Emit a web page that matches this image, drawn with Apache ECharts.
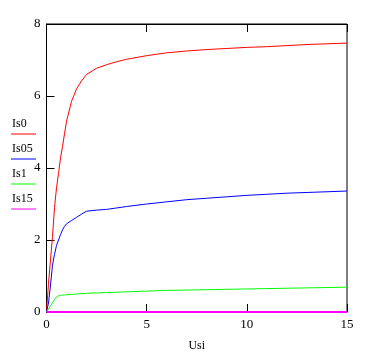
<!DOCTYPE html>
<html>
<head>
<meta charset="utf-8">
<script src="https://cdn.jsdelivr.net/npm/echarts@6/dist/echarts.min.js"></script>
<style>
  html, body { margin: 0; padding: 0; background: #fff; }
  #chart { width: 366px; height: 353px; }
</style>
</head>
<body>
<div id="chart"></div>
<script>
// values
var usi = [0, 0.1, 0.2, 0.3, 0.4, 0.5, 0.6, 0.7, 0.8, 0.9, 1, 1.25, 1.5, 1.75, 2, 2.5, 3, 3.5, 4, 5, 6, 7, 8, 9, 10, 11, 12, 13, 14, 15];
var is0  = [0, 0.8, 1.45, 2.1, 2.9, 3.45, 3.85, 4.28, 4.6, 4.95, 5.3, 5.85, 6.2, 6.42, 6.6, 6.77, 6.87, 6.95, 7.02, 7.12, 7.2, 7.25, 7.29, 7.32, 7.35, 7.37, 7.4, 7.43, 7.45, 7.47];
var is05 = [0, 0.25, 0.75, 1.3, 1.6, 1.85, 2.0, 2.15, 2.28, 2.38, 2.45, 2.54, 2.63, 2.72, 2.8, 2.83, 2.85, 2.89, 2.93, 3.0, 3.06, 3.12, 3.16, 3.2, 3.24, 3.27, 3.3, 3.32, 3.34, 3.36];
var is1  = [0, 0.08, 0.17, 0.26, 0.35, 0.42, 0.45, 0.46, 0.47, 0.475, 0.48, 0.49, 0.5, 0.51, 0.52, 0.53, 0.54, 0.55, 0.56, 0.58, 0.6, 0.61, 0.62, 0.63, 0.64, 0.65, 0.66, 0.67, 0.68, 0.69];
var is15 = [0, 0, 0, 0, 0, 0, 0, 0, 0, 0, 0, 0, 0, 0, 0, 0, 0, 0, 0, 0, 0, 0, 0, 0, 0, 0, 0, 0, 0, 0];

var names = ['Is0', 'Is05', 'Is1', 'Is15'];
var colors = ['#ff0000', '#0000ff', '#00ff00', '#ff00ff'];
var values = [is0, is05, is1, is15];

var font = 'Liberation Serif';

function pairs(ys) {
  var out = [];
  for (var i = 0; i < usi.length; i++) out.push([usi[i], ys[i]]);
  return out;
}

var series = [];
var legendItems = [];
for (var k = 0; k < names.length; k++) {
  series.push({
    name: names[k],
    type: 'line',
    data: pairs(values[k]),
    showSymbol: false,
    lineStyle: { color: colors[k], width: k == 3 ? 2 : 1 },
    z: 3
  });
  // legend drawn by hand: name above a short coloured line
  legendItems.push({
    type: 'text', left: 12, top: 118 + k * 25,
    style: { text: names[k], font: '12px "' + font + '"', fill: '#000' }
  });
  legendItems.push({
    type: 'line',
    shape: { x1: 11, y1: 134 + k * 25, x2: 36, y2: 134 + k * 25 },
    style: { stroke: colors[k], lineWidth: 1 }
  });
}

var chart = echarts.init(document.getElementById('chart'));
var option = {
  animation: false,
  grid: {
    left: 46.5, right: 19, top: 24, bottom: 41,
    outerBoundsMode: 'none',
    show: true, borderColor: '#000', borderWidth: 1
  },
  xAxis: [
    {
      type: 'value', min: 0, max: 15, interval: 5, position: 'bottom',
      name: 'Usi', nameLocation: 'middle', nameGap: 28,
      nameTextStyle: { fontFamily: font, fontSize: 12, color: '#000' },
      axisLine: { lineStyle: { color: '#000' } },
      axisTick: { inside: true, length: 8, lineStyle: { color: '#000' } },
      axisLabel: { margin: 6, fontFamily: font, fontSize: 13, color: '#000' },
      splitLine: { show: false }
    },
    {
      type: 'value', min: 0, max: 15, interval: 5, position: 'top',
      axisLine: { lineStyle: { color: '#000' } },
      axisTick: { inside: true, length: 8, lineStyle: { color: '#000' } },
      axisLabel: { show: false },
      splitLine: { show: false }
    }
  ],
  yAxis: {
    type: 'value', min: 0, max: 8, interval: 2,
    axisLine: { show: true, lineStyle: { color: '#000' } },
    axisTick: { show: true, inside: true, length: 8, lineStyle: { color: '#000' } },
    axisLabel: { margin: 6, fontFamily: font, fontSize: 13, color: '#000' },
    splitLine: { show: false }
  },
  graphic: legendItems,
  series: series
};
chart.setOption(option);
</script>
</body>
</html>
